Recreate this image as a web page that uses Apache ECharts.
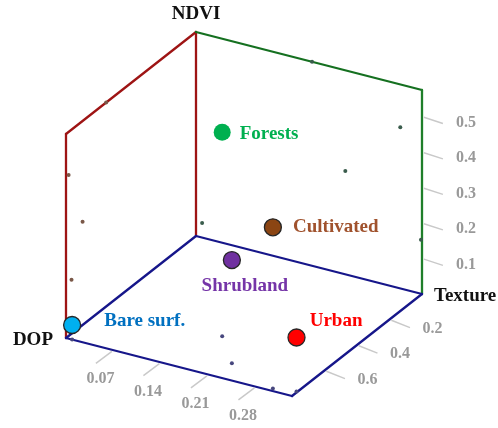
<!DOCTYPE html>
<html>
<head>
<meta charset="utf-8">
<script src="https://cdn.jsdelivr.net/npm/echarts@6/dist/echarts.min.js"></script>
<style>
  html, body { margin: 0; padding: 0; background: #fff; }
  #chart { width: 498px; height: 428px; }
</style>
</head>
<body>
<div id="chart"></div>
<script>
// classes and their (DOP, Texture, NDVI) values
const classes = ['Forests', 'Cultivated', 'Shrubland', 'Urban', 'Bare surf.']
const dop = [0.171, 0.301, 0.220, 0.3315, 0.009]
const texture = [0.553, 0.784, 0.698, 0.766, 0.800]
const ndvi = [0.575, 0.454, 0.291, 0.152, 0.041]

// axis ranges and ticks
const dopRange = [0, 0.333]
const texRange = [0, 0.8]
const ndviRange = [0, 0.575]
const dopTicks = [0.07, 0.14, 0.21, 0.28]
const texTicks = [0.2, 0.4, 0.6]
const ndviTicks = [0.1, 0.2, 0.3, 0.4, 0.5]

const fillColors = ['#00b050', '#8b4513', '#7030a0', '#ff0000', '#00b0f0']
const labelColors = ['#00b050', '#a0522d', '#7535a8', '#ff0000', '#0070c0']
const FONT = '"Liberation Serif", "Times New Roman", serif'

// oblique view: screen vector of each full axis
const VIEW = { dop: [226, -58], tex: [-130, -102], ndvi: [0, 204] }

const norm = (v, r) => (v - r[0]) / (r[1] - r[0])
const projUnit = (a, b, c) => [
  a * VIEW.dop[0] + b * VIEW.tex[0] + c * VIEW.ndvi[0],
  a * VIEW.dop[1] + b * VIEW.tex[1] + c * VIEW.ndvi[1]
]
const proj = (d, t, n) => projUnit(norm(d, dopRange), norm(t, texRange), norm(n, ndviRange))

// box edges in unit cube coords
const edges = [
  [[0, 1, 0], [0, 1, 1], '#9e1414'],
  [[0, 1, 1], [0, 0, 1], '#9e1414'],
  [[0, 0, 1], [0, 0, 0], '#9e1414'],
  [[0, 0, 1], [1, 0, 1], '#157020'],
  [[1, 0, 1], [1, 0, 0], '#1f7f2a'],
  [[0, 1, 0], [0, 0, 0], '#16168a'],
  [[0, 0, 0], [1, 0, 0], '#16168a'],
  [[1, 0, 0], [1, 1, 0], '#16168a'],
  [[1, 1, 0], [0, 1, 0], '#16168a']
]

const tickStyle = { stroke: '#c9c9c9', lineWidth: 1.5 }
const tickFont = 'bold 16px ' + FONT

const makeTicks = (kind) => (params, api) => {
  const v = api.value(0)
  let p, dir, off
  if (kind === 'dop') {
    p = api.coord(proj(v, texRange[1], ndviRange[0]))
    dir = [-0.8, 0.6]
    off = [-13, 29]
  } else if (kind === 'tex') {
    p = api.coord(proj(dopRange[1], v, ndviRange[0]))
    dir = [0.93, 0.37]
    off = [43, 9]
  } else {
    p = api.coord(proj(dopRange[1], texRange[0], v))
    dir = [0.95, 0.31]
    off = [44, 6]
  }
  return {
    type: 'group',
    children: [
      {
        type: 'line',
        shape: { x1: p[0] + dir[0] * 2, y1: p[1] + dir[1] * 2, x2: p[0] + dir[0] * 22, y2: p[1] + dir[1] * 22 },
        style: tickStyle
      },
      {
        type: 'text',
        style: {
          text: String(v), x: p[0] + off[0], y: p[1] + off[1],
          align: 'center', verticalAlign: 'middle', font: tickFont, fill: '#999'
        }
      }
    ]
  }
}

const axisTitles = [
  { text: 'NDVI', corner: [0, 0, 1], off: [0, -18], align: 'center' },
  { text: 'DOP', corner: [0, 1, 0], off: [-13, 2], align: 'right' },
  { text: 'Texture', corner: [1, 0, 0], off: [12, 2], align: 'left' }
]

// label placement around each marker
const labelPos = [
  { position: 'right', distance: 9, offset: [0, 2] },
  { position: 'right', distance: 11, offset: [0, 0] },
  { position: 'bottom', distance: 7, offset: [13, 0] },
  { position: 'right', distance: 4, offset: [0, -16] },
  { position: 'right', distance: 23, offset: [0, -4] }
]

const wallDots = []
classes.forEach((c, i) => {
  wallDots.push({ value: proj(dopRange[0], texture[i], ndvi[i]), itemStyle: { color: '#7a5848' } })
  wallDots.push({ value: proj(dop[i], texRange[0], ndvi[i]), itemStyle: { color: '#3a5c4c' } })
  wallDots.push({ value: proj(dop[i], texture[i], ndviRange[0]), itemStyle: { color: '#47477e' } })
})

const chart = echarts.init(document.getElementById('chart'))

chart.setOption({
  animation: false,
  backgroundColor: '#fff',
  grid: { left: 66, top: 32, width: 356, height: 364 },
  xAxis: { type: 'value', min: -130, max: 226, show: false },
  yAxis: { type: 'value', min: -160, max: 204, show: false },
  series: [
    {
      type: 'custom',
      silent: true,
      data: edges.map((e, i) => [i, 0]),
      renderItem: (params, api) => {
        const e = edges[api.value(0)]
        const p1 = api.coord(projUnit(...e[0]))
        const p2 = api.coord(projUnit(...e[1]))
        return {
          type: 'line',
          shape: { x1: p1[0], y1: p1[1], x2: p2[0], y2: p2[1] },
          style: { stroke: e[2], lineWidth: 2.3, lineCap: 'round' }
        }
      }
    },
    { type: 'custom', silent: true, data: dopTicks.map(v => [v, 0]), renderItem: makeTicks('dop') },
    { type: 'custom', silent: true, data: texTicks.map(v => [v, 0]), renderItem: makeTicks('tex') },
    { type: 'custom', silent: true, data: ndviTicks.map(v => [v, 0]), renderItem: makeTicks('ndvi') },
    {
      type: 'custom',
      silent: true,
      data: axisTitles.map((t, i) => [i, 0]),
      renderItem: (params, api) => {
        const t = axisTitles[api.value(0)]
        const p = api.coord(projUnit(...t.corner))
        return {
          type: 'text',
          style: {
            text: t.text, x: p[0] + t.off[0], y: p[1] + t.off[1],
            align: t.align, verticalAlign: 'middle',
            font: 'bold 19px ' + FONT, fill: '#111'
          }
        }
      }
    },
    {
      type: 'scatter',
      silent: true,
      symbolSize: 4,
      itemStyle: { opacity: 1 },
      data: wallDots
    },
    {
      type: 'scatter',
      silent: true,
      symbolSize: 17,
      itemStyle: { opacity: 1 },
      data: classes.map((c, i) => ({
        name: c,
        value: proj(dop[i], texture[i], ndvi[i]),
        itemStyle: {
          opacity: 1,
          color: fillColors[i],
          borderColor: i === 0 ? fillColors[i] : '#262626',
          borderWidth: i === 0 ? 0 : 1.3
        },
        label: {
          show: true,
          formatter: '{b}',
          color: labelColors[i],
          fontFamily: FONT,
          fontWeight: 'bold',
          fontSize: 19,
          ...labelPos[i]
        }
      }))
    }
  ]
})

window.addEventListener('resize', () => chart.resize())
</script>
</body>
</html>
